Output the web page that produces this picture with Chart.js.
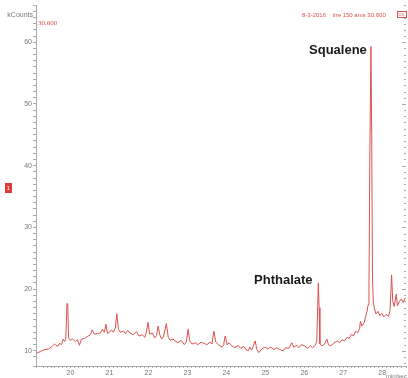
<!DOCTYPE html>
<html>
<head>
<meta charset="utf-8">
<script src="https://cdn.jsdelivr.net/npm/chart.js@4.4.1/dist/chart.umd.min.js"></script>
<style>
  html, body { margin: 0; padding: 0; background: #fff; }
  #wrap { width: 408px; height: 378px; }
</style>
</head>
<body>
<div id="wrap"><canvas id="tic" width="408" height="378"></canvas></div>
<script>
// retention time (min)
const retentionTime = [
  19.13, 19.23, 19.34, 19.44, 19.54, 19.59, 19.67, 19.72, 19.77, 19.81,
  19.85, 19.88, 19.91, 19.93, 19.95, 20.00, 20.05, 20.13, 20.18, 20.23,
  20.28, 20.36, 20.43, 20.51, 20.56, 20.61, 20.69, 20.77, 20.82, 20.87,
  20.91, 20.95, 21.00, 21.05, 21.10, 21.15, 21.19, 21.23, 21.28, 21.36,
  21.41, 21.46, 21.53, 21.61, 21.69, 21.76, 21.84, 21.91, 21.94, 21.99,
  22.03, 22.10, 22.16, 22.21, 22.25, 22.29, 22.34, 22.39, 22.46, 22.51,
  22.56, 22.63, 22.71, 22.76, 22.84, 22.92, 22.97, 23.02, 23.06, 23.12,
  23.20, 23.27, 23.35, 23.43, 23.50, 23.58, 23.63, 23.68, 23.73, 23.81,
  23.89, 23.93, 23.97, 24.02, 24.07, 24.14, 24.22, 24.30, 24.37, 24.45,
  24.50, 24.57, 24.60, 24.65, 24.74, 24.78, 24.83, 24.91, 24.99, 25.06,
  25.14, 25.22, 25.29, 25.37, 25.46, 25.52, 25.60, 25.68, 25.73, 25.81,
  25.86, 25.93, 26.01, 26.09, 26.16, 26.21, 26.28, 26.32, 26.36, 26.38,
  26.40, 26.45, 26.52, 26.58, 26.62, 26.68, 26.75, 26.84, 26.91, 26.97,
  27.03, 27.10, 27.15, 27.21, 27.26, 27.32, 27.37, 27.42, 27.44, 27.48,
  27.54, 27.57, 27.61, 27.64, 27.66, 27.68, 27.71, 27.73, 27.75, 27.77,
  27.80, 27.84, 27.89, 27.94, 27.99, 28.04, 28.10, 28.16, 28.20, 28.24,
  28.27, 28.31, 28.36, 28.39, 28.44, 28.49, 28.54, 28.59
];

// abundance (kCounts)
const kCounts = [
  9.6, 9.9, 10.2, 10.3, 10.8, 11.1, 10.7, 11.2, 11.0, 11.9,
  11.5, 12.0, 17.7, 17.6, 12.1, 11.7, 11.9, 11.5, 11.8, 10.9,
  11.9, 12.0, 12.3, 12.6, 13.4, 12.7, 12.8, 12.9, 13.5, 13.0,
  14.3, 12.8, 13.0, 13.4, 13.0, 13.7, 16.0, 13.5, 13.0, 13.2,
  12.8, 13.3, 12.9, 12.6, 13.1, 12.4, 12.6, 12.2, 12.8, 14.6,
  12.7, 12.9, 12.1, 12.5, 14.0, 12.6, 11.9, 12.4, 14.4, 12.2,
  11.7, 11.9, 11.5, 11.3, 11.7, 11.0, 11.4, 13.5, 11.6, 11.1,
  11.3, 11.0, 11.4, 11.2, 11.0, 11.4, 11.1, 13.2, 11.4, 10.9,
  10.6, 11.0, 12.4, 11.0, 11.3, 10.8, 10.5, 10.9, 10.4, 10.7,
  10.2, 10.0, 10.6, 10.1, 11.6, 10.3, 9.7, 10.3, 10.6, 10.3,
  10.6, 10.2, 10.5, 10.2, 10.0, 10.5, 10.4, 11.3, 10.6, 10.9,
  10.5, 11.0, 10.8, 10.4, 10.8, 10.5, 10.9, 11.5, 21.0, 17.0,
  11.1, 10.8, 11.1, 11.9, 11.0, 10.8, 11.2, 11.6, 11.3, 11.8,
  11.6, 12.2, 12.0, 12.7, 12.4, 13.2, 12.9, 13.6, 14.8, 14.0,
  14.6, 15.5, 16.4, 17.5, 20.0, 40.0, 59.3, 45.0, 22.0, 18.0,
  16.8, 16.0, 16.4, 15.7, 16.1, 15.5, 15.9, 15.6, 16.5, 22.3,
  18.0, 17.2, 19.2, 17.3, 18.0, 18.4, 17.8, 18.6
];

const yLabelValues = [10, 20, 30, 40, 50, 60];
const xLabelValues = [20, 21, 22, 23, 24, 25, 26, 27, 28];

const peakLabels = [
  { text: 'Squalene', x: 27.71, y: 59.3 },
  { text: 'Phthalate', x: 26.36, y: 21.0 }
];

const GRAY = '#777';
const RED = '#d9534f';

// right axis ticks, peak names and header texts
const decorations = {
  id: 'decorations',
  afterDraw(chart) {
    const ctx = chart.ctx;
    const area = chart.chartArea;
    const yScale = chart.scales.y;
    const xScale = chart.scales.x;
    ctx.save();

    // right side axis with inward ticks
    ctx.strokeStyle = '#aaa';
    ctx.lineWidth = 1;
    for (let v = 8; v <= 66; v++) {
      const py = Math.round(yScale.getPixelForValue(v)) + 0.5;
      const len = v % 10 === 0 ? 4 : 2;
      ctx.beginPath();
      ctx.moveTo(area.right - len, py);
      ctx.lineTo(area.right, py);
      ctx.stroke();
    }

    // peak names
    ctx.fillStyle = '#1a1a1a';
    ctx.font = 'bold 13px "Liberation Sans", Arial, sans-serif';
    ctx.textAlign = 'center';
    ctx.textBaseline = 'middle';
    peakLabels.forEach(p => {
      const px = xScale.getPixelForValue(p.x);
      const py = yScale.getPixelForValue(p.y);
      ctx.fillText(p.text, px - (p.text === 'Squalene' ? 33 : 35), py + (p.text === 'Squalene' ? 4 : -3));
    });

    // header
    ctx.font = '7px "Liberation Sans", Arial, sans-serif';
    ctx.textAlign = 'right';
    ctx.fillStyle = GRAY;
    ctx.fillText('kCounts', 33, 15);
    ctx.textAlign = 'left';
    ctx.fillStyle = RED;
    ctx.font = '7px "Liberation Serif", serif';
    ctx.fillText('30.600', 38, 23);
    ctx.font = '6px "Liberation Sans", Arial, sans-serif';
    ctx.fillText('8-3-2016    tire 150 ams 30.600', 302, 15);
    ctx.strokeStyle = RED;
    ctx.strokeRect(397.5, 11.5, 9, 6);
    ctx.font = '4px "Liberation Sans", Arial, sans-serif';
    ctx.fillText('DD', 398.5, 14.8);

    // red marker box on the left
    ctx.fillStyle = '#e03a3a';
    ctx.fillRect(5, 183, 7, 10);
    ctx.fillStyle = '#fff';
    ctx.font = '6px "Liberation Sans", Arial, sans-serif';
    ctx.textAlign = 'center';
    ctx.fillText('1', 8.5, 188.5);

    // unit at bottom right
    ctx.fillStyle = GRAY;
    ctx.font = '6px "Liberation Sans", Arial, sans-serif';
    ctx.textAlign = 'left';
    ctx.fillText('min/sec', 386, 376);
    ctx.restore();
  }
};

const ctx = document.getElementById('tic').getContext('2d');
new Chart(ctx, {
  type: 'line',
  data: {
    datasets: [{
      data: retentionTime.map((t, i) => ({ x: t, y: kCounts[i] })),
      borderColor: RED,
      borderWidth: 1,
      pointRadius: 0,
      tension: 0,
      fill: false
    }]
  },
  options: {
    responsive: false,
    animation: false,
    layout: { padding: { top: 3, right: 2, left: 0, bottom: 0 } },
    plugins: {
      legend: { display: false },
      tooltip: { enabled: false }
    },
    scales: {
      x: {
        type: 'linear',
        min: 19.115,
        max: 28.61,
        afterFit: scale => { scale.height = 12; },
        border: { display: true, color: '#aaa' },
        grid: { display: true, drawOnChartArea: false, drawTicks: true, tickLength: 2, color: '#aaa' },
        ticks: {
          stepSize: 0.1,
          autoSkip: false,
          maxRotation: 0,
          padding: 1,
          color: GRAY,
          font: { size: 7, family: '"Liberation Sans", Arial, sans-serif' },
          callback: v => {
            const r = Math.round(v);
            return Math.abs(v - r) < 0.01 && xLabelValues.includes(r) ? String(r) : '';
          }
        }
      },
      y: {
        min: 7.54,
        max: 66,
        afterFit: scale => { scale.width = 36; },
        border: { display: true, color: '#aaa' },
        grid: { display: true, drawOnChartArea: false, drawTicks: true, tickLength: 3, color: '#aaa' },
        ticks: {
          stepSize: 1,
          autoSkip: false,
          padding: 1,
          color: GRAY,
          font: { size: 7, family: '"Liberation Sans", Arial, sans-serif' },
          callback: v => yLabelValues.includes(v) ? String(v) : ''
        }
      }
    }
  },
  plugins: [decorations]
});
</script>
</body>
</html>
